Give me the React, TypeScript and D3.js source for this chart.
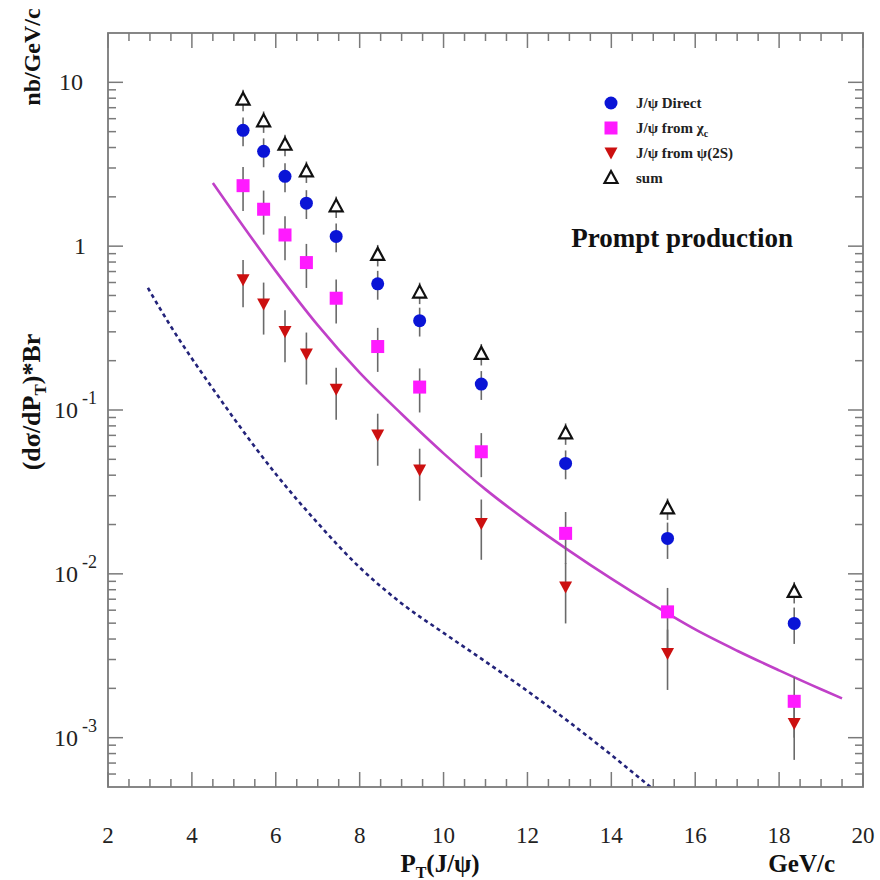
import React from 'react';
import * as d3 from 'd3';

// ---- data ----
const ptBins = [5.22, 5.71, 6.22, 6.73, 7.44, 8.43, 9.43, 10.9, 12.91, 15.34, 18.36];
const directVals = [5.09, 3.79, 2.67, 1.83, 1.146, 0.589, 0.351, 0.144, 0.0472, 0.01644, 0.00498];
const chicVals = [2.34, 1.68, 1.17, 0.794, 0.481, 0.244, 0.138, 0.0556, 0.01766, 0.00586, 0.001667];
const psi2sVals = [0.623, 0.444, 0.301, 0.22, 0.134, 0.0703, 0.043, 0.0203, 0.0083, 0.00326, 0.00122];
const sumVals = [7.84, 5.78, 4.16, 2.86, 1.75, 0.885, 0.521, 0.22, 0.0721, 0.0251, 0.00776];

const directRelErr = [0.2, 0.2, 0.2, 0.2, 0.2, 0.2, 0.2, 0.2, 0.2, 0.25, 0.25];
const chicRelErr = [0.3, 0.3, 0.3, 0.3, 0.3, 0.3, 0.3, 0.3, 0.35, 0.4, 0.4];
const psi2sRelErr = [0.32, 0.35, 0.35, 0.35, 0.35, 0.35, 0.35, 0.4, 0.4, 0.4, 0.4];
const sumRelErr = [0.15, 0.15, 0.15, 0.15, 0.15, 0.15, 0.15, 0.15, 0.15, 0.15, 0.15];

const solidCurvePt = [4.5, 5, 6, 7, 8, 9, 10, 11, 12, 13, 14, 15, 16, 17, 18, 19, 19.5];
const solidCurveVal = [2.427, 1.594, 0.704, 0.3293, 0.1689, 0.09451, 0.05438, 0.03277, 0.02091, 0.01382, 0.009344, 0.006464, 0.004576, 0.003393, 0.002574, 0.001974, 0.001738];

const dashedCurvePt = [2.95, 3.5, 4, 4.5, 5, 6, 7, 8, 9, 10, 11, 12, 13, 14, 15];
const dashedCurveVal = [0.557, 0.3232, 0.2063, 0.1348, 0.08902, 0.0407, 0.0204, 0.01095, 0.0066, 0.00436, 0.002914, 0.001925, 0.001243, 0.000784, 0.000484];

const xTicks = [2, 4, 6, 8, 10, 12, 14, 16, 18, 20];
const yMajorExp = [-3, -2, -1, 0, 1];

const legendLabels = ['J/ψ Direct', 'J/ψ from χ', 'J/ψ from ψ(2S)', 'sum'];

// ---- layout ----
const L = 108, R = 863, T = 33, B = 787;
const FONT = '"Liberation Serif", "DejaVu Serif", serif';

const BLUE = '#0a14d6';
const MAGENTA = '#ff1aff';
const RED = '#cc1010';
const CURVE = '#c040c8';
const NAVY = '#23237a';
const ERR = '#6a6a6a';
const FRAME = '#7a7a7a';

function Circle({ cx, cy }: { cx: number; cy: number }) {
  return <circle cx={cx} cy={cy} r={6.5} fill={BLUE} />;
}
function Square({ cx, cy }: { cx: number; cy: number }) {
  return <rect x={cx - 6.5} y={cy - 6.5} width={13} height={13} fill={MAGENTA} />;
}
function DownTri({ cx, cy }: { cx: number; cy: number }) {
  return <path d={`M${cx - 6.5},${cy - 5.5}L${cx + 6.5},${cy - 5.5}L${cx},${cy + 6.5}Z`} fill={RED} />;
}
function UpTri({ cx, cy }: { cx: number; cy: number }) {
  return (
    <path
      d={`M${cx},${cy - 7}L${cx + 6.5},${cy + 5}L${cx - 6.5},${cy + 5}Z`}
      fill="white"
      stroke="#111"
      strokeWidth={2.2}
    />
  );
}

export default function App() {
  const x = d3.scaleLinear().domain([2, 20]).range([L, R]);
  const y = d3.scaleLog().domain([5e-4, 20]).range([B, T]);

  const series = [
    { vals: sumVals, err: sumRelErr, M: UpTri },
    { vals: directVals, err: directRelErr, M: Circle },
    { vals: chicVals, err: chicRelErr, M: Square },
    { vals: psi2sVals, err: psi2sRelErr, M: DownTri },
  ];

  const solidLine = d3
    .line<number>()
    .x((_, i) => x(solidCurvePt[i]))
    .y((v) => y(v))
    .curve(d3.curveMonotoneX)(solidCurveVal) as string;
  const dashedLine = d3
    .line<number>()
    .x((_, i) => x(dashedCurvePt[i]))
    .y((v) => y(v))
    .curve(d3.curveMonotoneX)(dashedCurveVal) as string;

  const xMinor: number[] = d3.range(2, 20.001, 0.5).filter((v) => Math.abs(v / 2 - Math.round(v / 2)) > 1e-6);
  const yMinor: number[] = [];
  for (let e = -4; e <= 1; e++) {
    for (let k = 2; k <= 9; k++) {
      const v = k * Math.pow(10, e);
      if (v > 5.01e-4 && v < 19.9) yMinor.push(v);
    }
  }
  const MAJ = 15, MIN = 8;

  const legendRows = [103, 128, 153, 178];
  const legendMarkers = [Circle, Square, DownTri, UpTri];

  return (
    <svg width={880} height={880} style={{ position: 'absolute', left: 0, top: 0, background: 'white' }} fontFamily={FONT}>
      <defs>
        <clipPath id="frameClip">
          <rect x={L} y={T} width={R - L} height={B - T} />
        </clipPath>
      </defs>
      <rect x={0} y={0} width={880} height={880} fill="white" />

      <g clipPath="url(#frameClip)">
        <path d={dashedLine} fill="none" stroke={NAVY} strokeWidth={2.6} strokeDasharray="4 3.5" />
        <path d={solidLine} fill="none" stroke={CURVE} strokeWidth={2.6} />
      </g>

      <rect x={L} y={T} width={R - L} height={B - T} fill="none" stroke={FRAME} strokeWidth={1.8} />
      <g stroke={FRAME} strokeWidth={1.5}>
        {xTicks.map((v) => (
          <g key={'xt' + v}>
            <line x1={x(v)} x2={x(v)} y1={B} y2={B - MAJ} />
            <line x1={x(v)} x2={x(v)} y1={T} y2={T + MAJ} />
          </g>
        ))}
        {xMinor.map((v) => (
          <g key={'xm' + v}>
            <line x1={x(v)} x2={x(v)} y1={B} y2={B - MIN} />
            <line x1={x(v)} x2={x(v)} y1={T} y2={T + MIN} />
          </g>
        ))}
        {yMajorExp.map((e) => (
          <g key={'yt' + e}>
            <line x1={L} x2={L + MAJ} y1={y(Math.pow(10, e))} y2={y(Math.pow(10, e))} />
            <line x1={R} x2={R - MAJ} y1={y(Math.pow(10, e))} y2={y(Math.pow(10, e))} />
          </g>
        ))}
        {yMinor.map((v) => (
          <g key={'ym' + v}>
            <line x1={L} x2={L + MIN} y1={y(v)} y2={y(v)} />
            <line x1={R} x2={R - MIN} y1={y(v)} y2={y(v)} />
          </g>
        ))}
      </g>

      {xTicks.map((v) => (
        <text key={'xl' + v} x={x(v)} y={843} fontSize={23} textAnchor="middle" fill="#222">
          {v}
        </text>
      ))}

      {yMajorExp.map((e) => {
        const yy = y(Math.pow(10, e));
        if (e === 1) {
          return (
            <text key={'yl' + e} x={83} y={yy + 8} fontSize={24} textAnchor="end" fill="#222">10</text>
          );
        }
        if (e === 0) {
          return (
            <text key={'yl' + e} x={86} y={yy + 8} fontSize={24} textAnchor="end" fill="#222">1</text>
          );
        }
        return (
          <g key={'yl' + e}>
            <text x={78} y={yy + 8} fontSize={24} textAnchor="end" fill="#222">10</text>
            <text x={82} y={yy - 6} fontSize={18} textAnchor="start" fill="#222">{String(e)}</text>
          </g>
        );
      })}

      <g stroke={ERR} strokeWidth={1.6}>
        {series.map((s, si) =>
          s.vals.map((v, i) => (
            <line
              key={'e' + si + '-' + i}
              x1={x(ptBins[i])}
              x2={x(ptBins[i])}
              y1={y(v * (1 + s.err[i]))}
              y2={y(Math.max(v * (1 - s.err[i]), 5.01e-4))}
            />
          ))
        )}
      </g>

      {series.map((s, si) =>
        s.vals.map((v, i) => <s.M key={'m' + si + '-' + i} cx={x(ptBins[i])} cy={y(v)} />)
      )}

      {legendLabels.map((lab, i) => {
        const M = legendMarkers[i];
        return (
          <g key={'lg' + i}>
            <M cx={611} cy={legendRows[i]} />
            <text x={636} y={legendRows[i] + 5} fontSize={15} fontWeight="bold" fill="#222">
              {lab}
              {i === 1 ? (
                <tspan fontSize={10} dy={4}>c</tspan>
              ) : null}
            </text>
          </g>
        );
      })}
      <text x={793} y={247} fontSize={27} fontWeight="bold" textAnchor="end" fill="#111">
        Prompt production
      </text>

      <text x={440} y={872} fontSize={25} fontWeight="bold" textAnchor="middle" fill="#111">
        P<tspan fontSize={16} dy={6}>T</tspan>
        <tspan dy={-6}>(J/ψ)</tspan>
      </text>
      <text x={835} y={872} fontSize={25} fontWeight="bold" textAnchor="end" fill="#111">
        GeV/c
      </text>
      <text
        transform={`translate(40,402) rotate(-90)`}
        fontSize={26}
        fontWeight="bold"
        textAnchor="middle"
        fill="#111"
      >
        (dσ/dP<tspan fontSize={17} dy={6}>T</tspan>
        <tspan dy={-6}>)*Br</tspan>
      </text>
      <text transform={`translate(40,57) rotate(-90)`} fontSize={24} fontWeight="bold" textAnchor="middle" fill="#111">
        nb/GeV/c
      </text>
    </svg>
  );
}
